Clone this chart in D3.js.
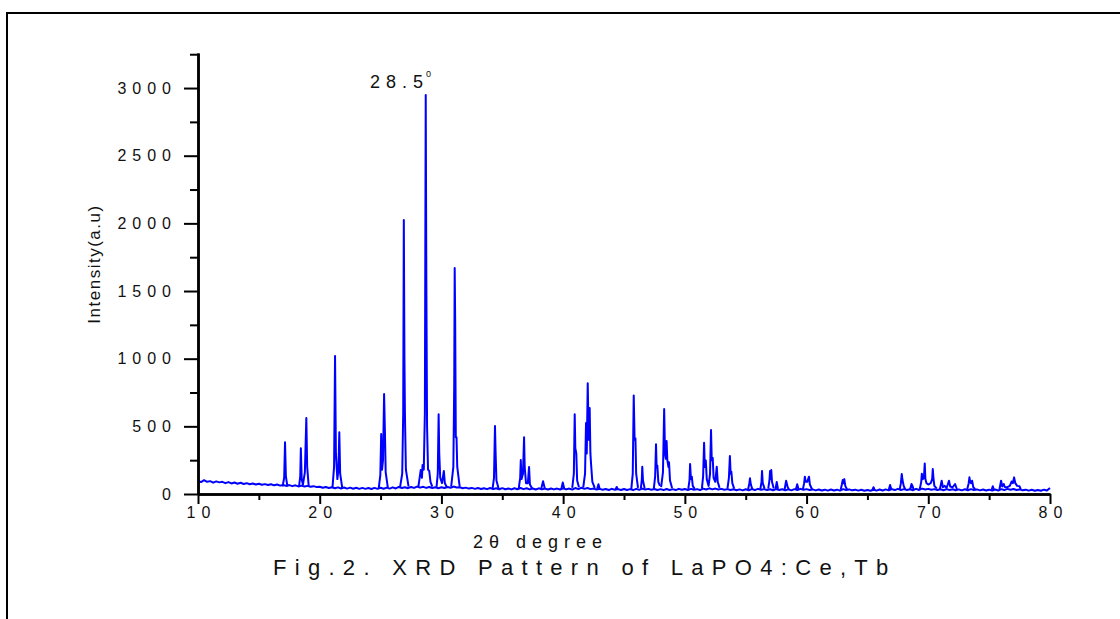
<!DOCTYPE html>
<html>
<head>
<meta charset="utf-8">
<script src="https://cdn.jsdelivr.net/npm/d3@7"></script>
<style>
  body { margin: 0; background: #fff; }
  svg { display: block; font-family: "Liberation Sans", Arial, sans-serif; }
</style>
</head>
<body>
<script>
// данные: 2θ (градусы) и интенсивность (a.u)

// фон: значения с шагом 0.25 градуса, начиная с указанного угла
var baseStep = 0.25;
var base10 = [98, 88, 102, 90, 95, 84, 93, 86, 90, 80, 88, 78, 85, 76, 83, 74, 80, 72, 78, 70,
              76, 68, 73, 66, 72, 64, 70, 62, 67, 60, 66, 58, 64, 56, 62, 55, 60, 53, 58, 51];
var base20 = [54, 46, 52, 44, 50, 42, 49, 41, 48, 40, 47, 39, 46, 38, 45, 38, 44, 37, 45, 38,
              46, 39, 47, 40, 49, 41, 52, 44, 50, 43, 52, 45, 55, 47, 53, 45, 52, 44, 50, 43];
var base30 = [50, 44, 52, 46, 55, 48, 50, 43, 47, 40, 45, 38, 44, 37, 43, 36, 44, 36, 42, 35,
              43, 35, 41, 34, 42, 35, 44, 36, 42, 34, 41, 33, 42, 34, 40, 33, 41, 34, 40, 33];
var base40 = [42, 34, 40, 33, 44, 36, 46, 38, 44, 36, 40, 33, 38, 31, 37, 30, 38, 31, 36, 30,
              37, 30, 36, 29, 38, 31, 40, 33, 38, 31, 37, 30, 36, 29, 37, 30, 36, 29, 38, 31];
var base50 = [37, 30, 38, 31, 36, 29, 40, 33, 42, 34, 40, 33, 38, 31, 36, 29, 35, 28, 34, 27,
              35, 28, 36, 29, 38, 31, 36, 29, 35, 28, 36, 29, 35, 28, 34, 27, 36, 29, 38, 31];
var base60 = [36, 29, 34, 27, 33, 26, 32, 25, 33, 26, 32, 25, 36, 29, 34, 27, 32, 25, 31, 24,
              30, 24, 31, 25, 33, 26, 34, 27, 36, 29, 38, 30, 36, 29, 35, 28, 38, 30, 40, 33];
var base70 = [38, 31, 36, 29, 35, 28, 36, 29, 35, 28, 34, 27, 35, 28, 36, 29, 34, 27, 33, 26,
              32, 25, 33, 26, 36, 29, 38, 31, 37, 30, 34, 27, 32, 25, 31, 24, 30, 24, 32, 26, 45];

// пики: группы точек [2θ, I]
var peaks10to30 = [
  [[16.95,56],[17.08,120],[17.15,382],[17.22,130],[17.35,55]],
  [[18.3,54],[18.4,130],[18.45,338],[18.52,110],[18.62,70],[18.78,160],[18.9,562],[18.97,200],[19.1,52]],
  [[21.05,48],[21.18,200],[21.26,1020],[21.33,300],[21.45,110],[21.54,180],[21.61,456],[21.68,150],[21.85,45]],
  [[24.85,44],[24.98,140],[25.05,444],[25.12,180],[25.2,250],[25.29,739],[25.36,450],[25.42,160],[25.6,46]],
  [[26.6,50],[26.78,150],[26.86,600],[26.91,2025],[26.96,1015],[27.0,600],[27.08,180],[27.3,55]],
  [[28.1,50],[28.3,177],[28.4,120],[28.45,214],[28.55,180],[28.64,600],[28.71,2948],[28.76,1581],[28.82,500],[28.9,180],[29.0,170],[29.1,90],[29.25,55]],
  [[29.6,52],[29.7,150],[29.77,589],[29.82,303],[29.9,120],[30.05,80],[30.2,170],[30.28,80],[30.45,50]]
];
var peaks30to50 = [
  [[30.8,55],[30.98,200],[31.05,800],[31.09,1670],[31.13,1277],[31.18,420],[31.24,419],[31.3,200],[31.5,55]],
  [[34.2,38],[34.32,120],[34.4,502],[34.45,305],[34.52,100],[34.7,38]],
  [[36.35,40],[36.47,120],[36.52,251],[36.58,110],[36.7,150],[36.79,419],[36.84,200],[36.95,80],[37.1,80],[37.2,200],[37.27,70],[37.45,40]],
  [[38.2,38],[38.35,95],[38.5,38]],
  [[39.85,36],[39.97,85],[40.1,36]],
  [[40.75,45],[40.88,150],[40.95,589],[41.0,338],[41.08,300],[41.15,100],[41.3,50]],
  [[41.65,48],[41.8,150],[41.88,524],[41.94,300],[42.02,818],[42.1,400],[42.18,635],[42.24,300],[42.3,214],[42.4,90],[42.6,45]],
  [[42.8,38],[42.9,72],[43.0,38]],
  [[44.3,32],[44.4,52],[44.5,32]],
  [[45.6,36],[45.72,150],[45.8,727],[45.87,400],[45.94,411],[46.0,150],[46.15,45]],
  [[46.38,40],[46.46,100],[46.5,202],[46.56,100],[46.7,40]],
  [[47.45,40],[47.56,130],[47.63,367],[47.68,200],[47.74,210],[47.82,90],[47.95,60]],
  [[48.05,50],[48.2,160],[48.3,628],[48.37,300],[48.44,260],[48.5,391],[48.56,250],[48.65,200],[48.7,235],[48.78,100],[48.95,45]]
];
var peaks50to80 = [
  [[50.28,38],[50.38,100],[50.43,222],[50.5,110],[50.57,128],[50.65,60],[50.8,38]],
  [[51.4,40],[51.5,130],[51.58,379],[51.64,200],[51.72,247],[51.8,110],[51.95,60],[52.07,150],[52.15,473],[52.21,250],[52.29,266],[52.36,120],[52.5,90],[52.62,202],[52.7,90],[52.85,45]],
  [[53.5,40],[53.62,120],[53.7,281],[53.76,150],[53.82,165],[53.9,80],[54.05,40]],
  [[55.2,35],[55.3,80],[55.35,116],[55.42,70],[55.55,35]],
  [[56.2,35],[56.3,90],[56.34,170],[56.4,80],[56.55,40]],
  [[56.85,40],[56.95,100],[57.0,170],[57.05,110],[57.1,177],[57.16,90],[57.3,40]],
  [[57.45,38],[57.55,88],[57.65,38]],
  [[58.2,35],[58.32,98],[58.45,50],[58.55,35]],
  [[59.12,32],[59.23,72],[59.35,32]],
  [[59.7,35],[59.8,80],[59.86,128],[59.93,90],[60.05,90],[60.2,128],[60.27,70],[60.45,35]],
  [[62.8,32],[62.9,70],[62.97,103],[63.03,80],[63.1,110],[63.18,60],[63.35,30]],
  [[65.4,28],[65.5,50],[65.6,28]],
  [[66.75,30],[66.86,66],[66.98,30]],
  [[67.65,32],[67.75,80],[67.82,148],[67.88,103],[67.98,60],[68.1,35]],
  [[68.5,32],[68.62,74],[68.7,60],[68.8,32]],
  [[69.3,35],[69.42,90],[69.47,150],[69.55,110],[69.64,120],[69.71,226],[69.76,113],[69.85,80],[70.0,70],[70.2,80],[70.32,110],[70.37,184],[70.43,111],[70.5,60],[70.7,40]],
  [[70.95,35],[71.1,98],[71.2,50],[71.35,60],[71.5,45],[71.6,70],[71.7,98],[71.8,55],[72.0,50],[72.2,74],[72.35,35]],
  [[73.2,35],[73.32,80],[73.38,123],[73.45,86],[73.52,80],[73.6,98],[73.7,50],[73.85,35]],
  [[75.2,30],[75.3,57],[75.4,30]],
  [[75.85,35],[75.98,98],[76.08,55],[76.2,74],[76.3,50],[76.5,50],[76.7,60],[76.85,93],[76.95,80],[77.05,123],[77.15,80],[77.3,60],[77.5,57],[77.6,35]]
];

// подписи делений
var xMajorTicks = [10, 20, 30, 40, 50, 60, 70, 80];
var xMinorTicks = [15, 25, 35, 45, 55, 65, 75];
var yMajorTicks = [0, 500, 1000, 1500, 2000, 2500, 3000];
var yMinorTicks = [250, 750, 1250, 1750, 2250, 2750, 3250];

// собираем фон в точки
var baseline = [];
[base10, base20, base30, base40, base50, base60, base70].forEach(function (arr, k) {
  arr.forEach(function (v, i) {
    baseline.push([10 + k * 10 + i * baseStep, v]);
  });
});
var peakGroups = peaks10to30.concat(peaks30to50, peaks50to80);

var W = 1120, H = 619;
var font = '"Liberation Sans", Arial, sans-serif';

var svg = d3.select("body").append("svg")
    .attr("width", W)
    .attr("height", H);

svg.append("rect")
    .attr("width", W).attr("height", H)
    .style("fill", "white");

// рамка
svg.append("rect")
    .attr("x", 7)
    .attr("y", 13)
    .attr("width", 1300)
    .attr("height", 800)
    .style("fill", "none")
    .style("stroke", "black")
    .style("stroke-width", 2);

var x = d3.scaleLinear().domain([10, 80]).range([198, 1050]);
var y = d3.scaleLinear().domain([0, 3259]).range([494, 53]);

var line = d3.line()
    .x(function (d) { return x(d[0]); })
    .y(function (d) { return y(d[1]); });

// фон
svg.append("path")
    .datum(baseline)
    .attr("d", line)
    .style("fill", "none")
    .style("stroke", "#0000ff")
    .style("stroke-width", 2)
    .style("stroke-linejoin", "round");

// пики
svg.selectAll("path.peak")
    .data(peakGroups)
    .enter().append("path")
    .attr("class", "peak")
    .attr("d", line)
    .style("fill", "none")
    .style("stroke", "#0000ff")
    .style("stroke-width", 2)
    .style("stroke-linejoin", "round");

// оси
function styleAxis(g, w) {
  g.select(".domain").style("stroke", "black").style("stroke-width", w);
  g.selectAll(".tick line").style("stroke", "black").style("stroke-width", 2);
}

function styleLabels(g) {
  g.selectAll(".tick text")
      .style("font-family", font)
      .style("font-size", "16px")
      .style("letter-spacing", "6px")
      .style("fill", "#111");
}

var xMinor = svg.append("g")
    .attr("transform", "translate(0,494)")
    .call(d3.axisBottom(x).tickValues(xMinorTicks).tickSize(6).tickSizeOuter(0).tickFormat(""));
styleAxis(xMinor, 2.5);

var xMajor = svg.append("g")
    .attr("transform", "translate(0,494)")
    .call(d3.axisBottom(x).tickValues(xMajorTicks).tickSize(10).tickSizeOuter(0)
      .tickPadding(3).tickFormat(d3.format("d")));
styleAxis(xMajor, 2.5);
styleLabels(xMajor);
xMajor.selectAll(".tick text").attr("dx", 3);

var yMinor = svg.append("g")
    .attr("transform", "translate(198,0)")
    .call(d3.axisLeft(y).tickValues(yMinorTicks).tickSize(8).tickSizeOuter(0).tickFormat(""));
styleAxis(yMinor, 2.5);

var yMajor = svg.append("g")
    .attr("transform", "translate(198,0)")
    .call(d3.axisLeft(y).tickValues(yMajorTicks).tickSize(14).tickSizeOuter(0)
      .tickPadding(7).tickFormat(d3.format("d")));
styleAxis(yMajor, 2.5);
styleLabels(yMajor);

// подписи осей
svg.append("text")
    .attr("x", 473)
    .attr("y", 548)
    .style("font-family", font)
    .style("font-size", "18px")
    .style("letter-spacing", "6px")
    .style("fill", "#111")
    .text("2θ degree");

svg.append("text")
    .attr("transform", "translate(99.5,264) rotate(-90)")
    .attr("text-anchor", "middle")
    .style("font-family", font)
    .style("font-size", "17px")
    .style("letter-spacing", "1.5px")
    .style("fill", "#111")
    .text("Intensity(a.u)");

// подпись рисунка
svg.append("text")
    .attr("x", 273)
    .attr("y", 575)
    .style("font-family", font)
    .style("font-size", "22px")
    .style("letter-spacing", "8.3px")
    .style("fill", "#111")
    .text("Fig.2. XRD Pattern of LaPO4:Ce,Tb");

// метка главного пика (разрядка через dx, без хвостового пробела)
svg.append("text")
    .attr("x", 370)
    .attr("y", 88)
    .attr("dx", "0 6 6 6")
    .style("font-family", font)
    .style("font-size", "18px")
    .style("fill", "#111")
    .text("28.5");

svg.append("text")
    .attr("x", 426)
    .attr("y", 77)
    .style("font-family", font)
    .style("font-size", "9px")
    .style("fill", "#111")
    .text("0");
</script>
</body>
</html>
